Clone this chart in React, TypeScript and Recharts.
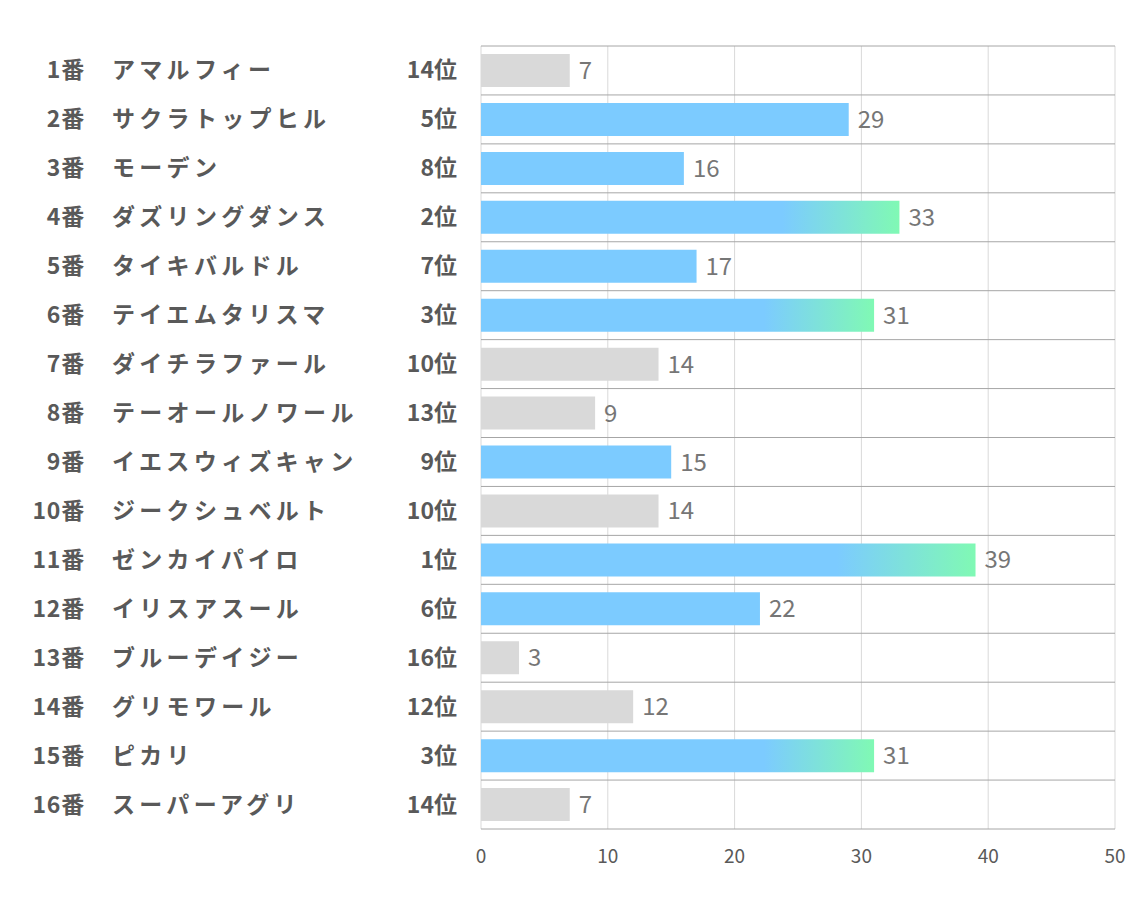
import React from 'react';
import { Bar, BarChart, CartesianGrid, Cell, LabelList, XAxis, YAxis } from 'recharts';

const horseNumbers = ['1番', '2番', '3番', '4番', '5番', '6番', '7番', '8番', '9番', '10番', '11番', '12番', '13番', '14番', '15番', '16番'];
const horseNames = [
  'アマルフィー',
  'サクラトップヒル',
  'モーデン',
  'ダズリングダンス',
  'タイキバルドル',
  'テイエムタリスマ',
  'ダイチラファール',
  'テーオールノワール',
  'イエスウィズキャン',
  'ジークシュベルト',
  'ゼンカイパイロ',
  'イリスアスール',
  'ブルーデイジー',
  'グリモワール',
  'ピカリ',
  'スーパーアグリ',
];
const ranks = [14, 5, 8, 2, 7, 3, 10, 13, 9, 10, 1, 6, 16, 12, 3, 14];
const scores = [7, 29, 16, 33, 17, 31, 14, 9, 15, 14, 39, 22, 3, 12, 31, 7];
const xTicks = [0, 10, 20, 30, 40, 50];

const data = horseNumbers.map((num, i) => ({
  key: num,
  num,
  name: horseNames[i],
  rank: ranks[i],
  score: scores[i],
}));

const FONT = '"Noto Sans CJK JP", "Noto Sans", sans-serif';
const TEXT = '#595959';

function barFill(rank: number) {
  if (rank <= 3) return 'url(#topGrad)';
  if (rank <= 9) return '#7ccbff';
  return '#d9d9d9';
}

function HorseTick({ y, payload }: { y?: number; payload?: { value: string } }) {
  const row = data.find((d) => d.key === payload?.value);
  if (!row) return null;
  return (
    <g fontFamily={FONT} fontWeight={700} fontSize={23} fill={TEXT}>
      <text x={85} y={y} dy={8} textAnchor="end" letterSpacing={0.8}>
        {row.num}
      </text>
      <text x={112} y={y} dy={8} textAnchor="start" letterSpacing={4.3}>
        {row.name}
      </text>
      <text x={457} y={y} dy={8} textAnchor="end">
        {row.rank}位
      </text>
    </g>
  );
}

export default function App() {
  const rowLines = ({ offset }: { offset: { top: number; height: number } }) =>
    Array.from({ length: data.length + 1 }, (_, i) => offset.top + (i * offset.height) / data.length);

  return (
    <div style={{ position: 'absolute', left: 0, top: 0, background: '#fff' }}>
      <BarChart
        width={1134}
        height={907}
        data={data}
        layout="vertical"
        margin={{ top: 46, right: 19, bottom: 38, left: 0 }}
        barSize={33}
      >
        <defs>
          <linearGradient id="topGrad" x1="0" y1="0" x2="1" y2="0">
            <stop offset="0.72" stopColor="#7ccbff" />
            <stop offset="1" stopColor="#80f9b4" />
          </linearGradient>
        </defs>
        <CartesianGrid horizontal={false} stroke="#d9d9d9" strokeWidth={1} />
        <CartesianGrid vertical={false} stroke="#a6a6a6" strokeWidth={1} horizontalCoordinatesGenerator={rowLines} />
        <XAxis
          type="number"
          domain={[0, 50]}
          ticks={xTicks}
          axisLine={false}
          tickLine={false}
          height={40}
          tickMargin={15}
          tick={{ fill: TEXT, fontSize: 19, fontFamily: FONT }}
        />
        <YAxis
          type="category"
          dataKey="key"
          width={481}
          axisLine={false}
          tickLine={false}
          interval={0}
          tick={<HorseTick />}
        />
        <Bar dataKey="score" isAnimationActive={false}>
          {data.map((d) => (
            <Cell key={d.key} fill={barFill(d.rank)} />
          ))}
          <LabelList dataKey="score" position="right" offset={9} fill="#767676" fontSize={24} fontFamily={FONT} />
        </Bar>
      </BarChart>
    </div>
  );
}
